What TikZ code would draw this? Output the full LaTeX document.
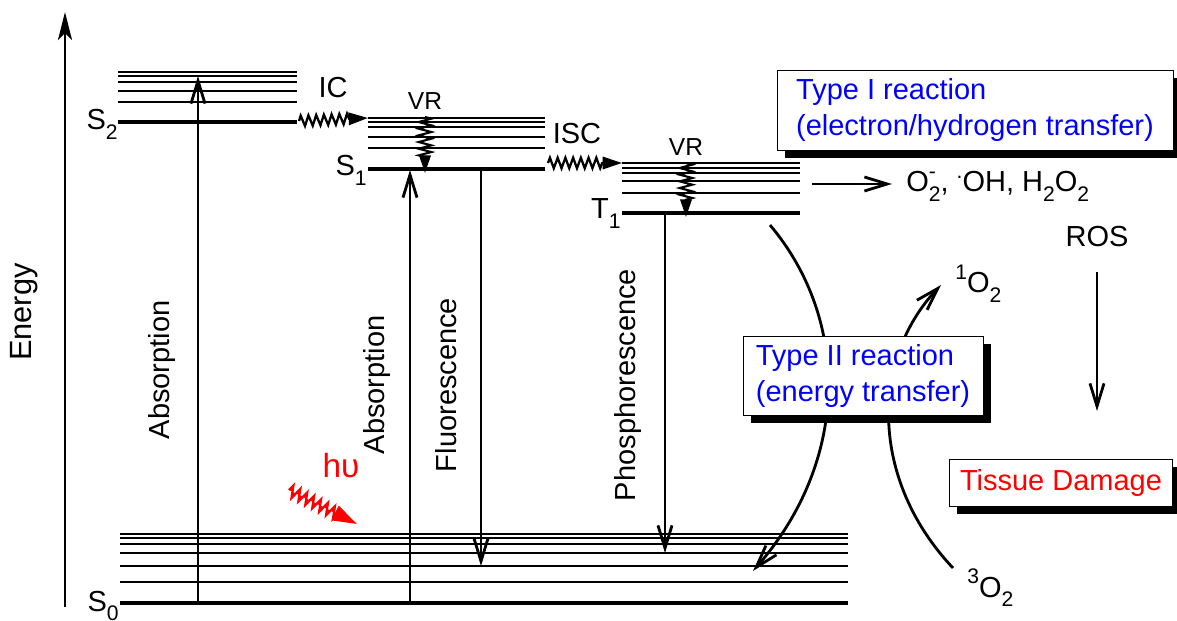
\documentclass[tikz,border=0pt]{standalone}
\usepackage{fontspec}
\setmainfont{Liberation Sans}
\usepackage{tikz}
\usetikzlibrary{arrows.meta, decorations.pathmorphing, shadows}
\definecolor{jbBlue}{HTML}{0000FF}
\definecolor{jbRed}{HTML}{FF0000}
\newcommand{\lowix}[1]{\raisebox{-0.6ex}{\fontsize{12}{14}\selectfont #1}}
\newcommand{\highix}[1]{\raisebox{0.9ex}{\fontsize{12}{14}\selectfont #1}}

\begin{document}
\begin{tikzpicture}[
  x=0.02cm, y=-0.02cm,
  font=\fontsize{16.5}{20}\selectfont,
  lvl/.style={line width=1.3pt},
  gnd/.style={line width=2.8pt},
  axis/.style={line width=1.7pt, -{Stealth[length=16pt, width=8pt, inset=4pt]}},
  trans/.style={line width=1.6pt, -{Straight Barb[length=13pt, width=8pt, line width=1.6pt]}},
  wavy/.style={line width=1.3pt, decorate, decoration={zigzag, amplitude=3pt, segment length=4.4pt, post length=10pt},
    -{Triangle[length=11pt, width=7pt]}},
  vr/.style={line width=1.2pt, decorate, decoration={zigzag, amplitude=3.6pt, segment length=3.8pt, post length=9pt},
    -{Triangle[length=10pt, width=6.5pt]}},
  rbox/.style={draw, line width=0.5pt, fill=white, align=left,
    drop shadow={shadow xshift=4.5pt, shadow yshift=-4.5pt, opacity=1, fill=black}},
  lab/.style={inner sep=0pt, anchor=base east},
  small/.style={font=\fontsize{14}{16}\selectfont}
]
\useasboundingbox (0,0) rectangle (1177,621);

% energy axis
\coordinate (eb) at (65,607);
\coordinate (et) at (65,12);
\draw[axis] (eb) -- (et);
\node[rotate=90, font=\fontsize{17.5}{20}\selectfont] (energy) at (24,312) {Energy};

% levels
\foreach \y in {72,76,82,91,102} \draw[lvl] (118,\y) -- (297,\y);
\draw[gnd] (118,122) -- (297,122);
\foreach \y in {118,122,127,137,148} \draw[lvl] (368,\y) -- (545,\y);
\draw[gnd] (368,169) -- (545,169);
\foreach \y in {163,168,173,181,193} \draw[lvl] (622,\y) -- (800,\y);
\draw[gnd] (622,213) -- (800,213);
\foreach \y in {534,538,544,553,566,582} \draw[lvl] (120,\y) -- (848,\y);
\draw[gnd] (120,603) -- (848,603);

\node[lab] (s2lab) at (118,130) {S\lowix{2}};
\node[lab] (s1lab) at (367,176) {S\lowix{1}};
\node[lab] (t1lab) at (621,219) {T\lowix{1}};
\node[lab] (s0lab) at (119,611) {S\lowix{0}};

% named ends
\coordinate (a1b) at (198,603);  \coordinate (a1t) at (198,76);
\coordinate (a2b) at (410,603);  \coordinate (a2t) at (410,170);
\coordinate (flt) at (481,169);  \coordinate (flb) at (481,566);
\coordinate (pht) at (665,213);  \coordinate (phb) at (665,553);
\coordinate (s2e) at (299,121);  \coordinate (s1w) at (368,118);
\coordinate (s1e) at (548,163);  \coordinate (t1w) at (622,163);
\coordinate (vr1t) at (425,117); \coordinate (vr1b) at (425,173);
\coordinate (vr2t) at (686,163); \coordinate (vr2b) at (686,217);
\coordinate (t1r) at (812,184);  \coordinate (prodin) at (892,184);
\coordinate (t1c) at (770,225);  \coordinate (s0c) at (753,571);
\coordinate (o3) at (953,568);   \coordinate (o1) at (941,285);
\coordinate (hva) at (289,490);  \coordinate (hvb) at (357,524);
\coordinate (rosend) at (1097,411);

% transitions
\draw[trans] (a1b) -- (a1t);
\draw[trans] (a2b) -- (a2t);
\draw[trans] (flt) -- (flb);
\draw[trans] (pht) -- (phb);
\draw[wavy] (s2e) -- (s1w);
\draw[wavy] (s1e) -- (t1w);
\draw[vr] (vr1t) -- (vr1b);
\draw[vr] (vr2t) -- (vr2b);
\draw[wavy, draw=jbRed, fill=jbRed, line width=1.3pt, decoration={amplitude=3.4pt, segment length=4.4pt, post length=12pt},
  -{Triangle[length=14pt, width=9pt]}] (hva) -- (hvb);

\node[rotate=90] (absA) at (162,370) {Absorption};
\node[rotate=90] (absB) at (377,385) {Absorption};
\node[rotate=90] (fluo) at (446,385) {Fluorescence};
\node[rotate=90] (phos) at (628,385) {Phosphorescence};
\node (ic) at (333,88) {IC};
\node (isc) at (577,134) {ISC};
\node[small] (vr1) at (425,101) {VR};
\node[small] (vr2) at (686,147) {VR};
\node[inner sep=0pt, anchor=base, text=jbRed, font=\fontsize{19}{22}\selectfont] (hnu) at (341,478) {hυ};

% type I branch
\draw[trans] (t1r) -- (prodin);
\node[inner sep=0pt, anchor=base west] (prod) at (906,192)
  {O\rlap{\highix{-}}\lowix{2}, \highix{.}OH, H\lowix{2}O\lowix{2}};
\node[inner sep=0pt, anchor=base] (ros) at (1097,247) {ROS};
\draw[trans] ([yshift=-14pt]ros.base) -- (rosend);

% type II branch
\draw[trans] (t1c) .. controls (850,320) and (850,460) .. (s0c);
\draw[trans] (o3) .. controls (870,480) and (870,360) .. (o1);
\node[inner sep=0pt, anchor=base west] (singlet) at (955,293) {\highix{1}O\lowix{2}};
\node[inner sep=0pt, anchor=base west] (triplet) at (967,597) {\highix{3}O\lowix{2}};

% boxes
\node[rbox, text=jbBlue, minimum width=7.92cm, minimum height=1.6cm] (typeI) at (975,110)
  {Type I reaction\\(electron/hydrogen transfer)};
\node[rbox, text=jbBlue, minimum width=4.8cm, minimum height=1.58cm] (typeII) at (863,376)
  {Type II reaction\\(energy transfer)};
\node[rbox, text=jbRed, minimum width=4.46cm, minimum height=0.94cm] (tissue) at (1061,483) {Tissue Damage};
\end{tikzpicture}
\end{document}
